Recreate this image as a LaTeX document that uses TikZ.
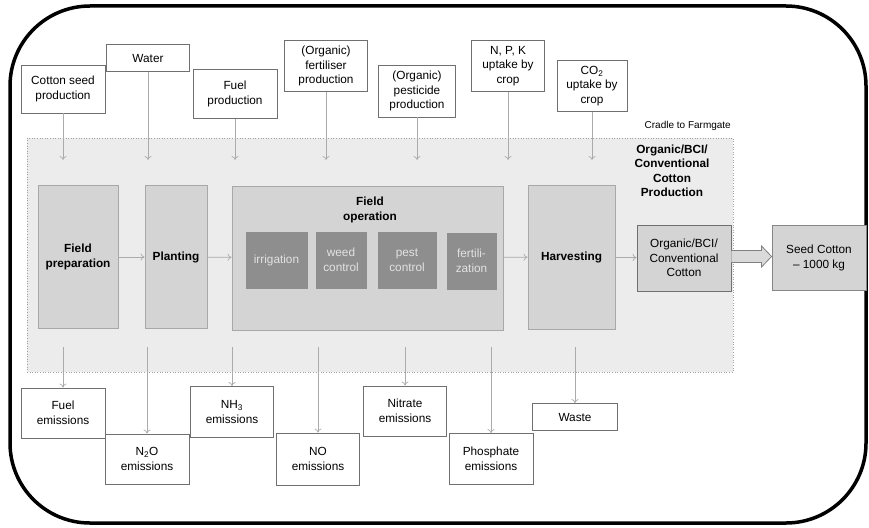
\documentclass[tikz,border=0pt]{standalone}
\usepackage{fontspec}
\setmainfont{Liberation Sans}
\usetikzlibrary{arrows.meta, positioning, calc}
\definecolor{zonefill}{HTML}{ECECEC}
\definecolor{zoneline}{HTML}{A0A0A0}
\definecolor{stagefill}{HTML}{D4D4D4}
\definecolor{stageline}{HTML}{A8A8A8}
\definecolor{taskfill}{HTML}{8E8E8E}
\definecolor{tasktext}{HTML}{E2E2E2}
\definecolor{flowgray}{HTML}{ABABAB}
\definecolor{boxline}{HTML}{707070}
\definecolor{blockfill}{HTML}{DADADA}

\begin{document}
\begin{tikzpicture}[x=1pt, y=-1pt,
    every node/.style={font=\fontsize{11.8}{14.5}\selectfont, align=center, inner sep=2pt},
    bold/.style={font=\fontsize{11.8}{14.5}\selectfont\bfseries},
    inbox/.style={draw=boxline, fill=white, line width=0.9pt},
    zone/.style={draw=zoneline, fill=zonefill, dotted, line width=0.6pt},
    stage/.style={draw=stageline, fill=stagefill, line width=0.9pt},
    task/.style={draw=taskfill, fill=taskfill, text=tasktext},
    flow/.style={draw=flowgray, line width=0.7pt, -{To[length=4pt, width=7pt]}},
  ]
  \useasboundingbox (0,0) rectangle (869,527);

  % outer frame
  \draw[line width=3.5pt, rounded corners=80pt] (10,6) rectangle (866,523);

  % cradle to farmgate zone
  \node[zone, minimum width=706, minimum height=234] (zone) at (380,255) {};
  \node[anchor=south east, font=\fontsize{10}{12}\selectfont] (cradle) at (733,133) {Cradle to Farmgate};
  \node[bold] (prodtitle) at (672,171) {Organic/BCI/\\Conventional\\Cotton\\Production};

  % inputs
  \node[inbox, minimum width=84, minimum height=48] (seed) at (63,89) {Cotton seed\\production};
  \node[inbox, minimum width=83, minimum height=27] (water) at (148,58) {Water};
  \node[inbox, minimum width=84, minimum height=49] (fuel) at (235,94) {Fuel\\production};
  \node[inbox, minimum width=83, minimum height=51] (fert) at (326,66) {(Organic)\\fertiliser\\production};
  \node[inbox, minimum width=77, minimum height=52] (pest) at (417,91) {(Organic)\\pesticide\\production};
  \node[inbox, minimum width=73, minimum height=51] (npk) at (508,66) {N, P, K\\uptake by\\crop};
  \node[inbox, minimum width=70, minimum height=51] (co2) at (592,86) {CO\textsubscript{2}\\uptake by\\crop};

  % stages
  \node[stage, bold, minimum width=80, minimum height=143] (prep) at (78,257) {Field\\preparation};
  \node[stage, bold, minimum width=62, minimum height=143] (plant) at (176,257) {Planting};
  \node[stage, minimum width=271, minimum height=144] (fop) at (367.5,258) {};
  \node[bold] (foptitle) at (370,210) {Field\\operation};
  \node[task, minimum width=61, minimum height=56] (irr) at (276.5,260) {irrigation};
  \node[task, minimum width=50, minimum height=56] (weed) at (341,260) {weed\\control};
  \node[task, minimum width=58, minimum height=56] (pestc) at (407,260) {pest\\control};
  \node[task, minimum width=49, minimum height=56] (fertz) at (471.5,261) {fertili-\\zation};
  \node[stage, bold, minimum width=87, minimum height=144] (harv) at (571.5,257) {Harvesting};
  \node[stage, draw=boxline, minimum width=94, minimum height=66] (org) at (684,258) {Organic/BCI/\\Conventional\\Cotton};
  \node[stage, draw=stageline!80!black, minimum width=94, minimum height=65] (seedc) at (819,258) {Seed Cotton\\-- 1000 kg};

  % outputs
  \node[inbox, minimum width=84, minimum height=50] (fuelem) at (63,413) {Fuel\\emissions};
  \node[inbox, minimum width=84, minimum height=50] (ntwo) at (147,459) {N\textsubscript{2}O\\emissions};
  \node[inbox, minimum width=83, minimum height=51] (nhthree) at (232,412) {NH\textsubscript{3}\\emissions};
  \node[inbox, minimum width=83, minimum height=52] (noem) at (318,459) {NO\\emissions};
  \node[inbox, minimum width=83, minimum height=50] (nitrate) at (405,411) {Nitrate\\emissions};
  \node[inbox, minimum width=84, minimum height=51] (phos) at (491,459) {Phosphate\\emissions};
  \node[inbox, minimum width=85, minimum height=27] (waste) at (575,417) {Waste};

  \coordinate (inrow) at (0,160);
  \coordinate (outrow) at (0,347);

  % flows in
  \foreach \n in {seed, water, fuel, fert, pest, npk, co2}
    \draw[flow] (\n) -- (\n |- inrow);

  % process chain
  \draw[flow] (prep) -- (plant);
  \draw[flow] (plant) -- (fop);
  \draw[flow] (fop) -- (harv);
  \draw[flow] (harv) -- (org);
  % block arrow to seed cotton
  \draw[draw=gray, fill=blockfill, line width=0.8pt]
    ($(org.east)+(0,-7.5)$) -- ($(seedc.west |- org.east)+(-10,-7.5)$)
    -- ($(seedc.west |- org.east)+(-10,-12)$) -- ($(seedc.west |- org.east)+(0,-1.5)$)
    -- ($(seedc.west |- org.east)+(-10,9)$) -- ($(seedc.west |- org.east)+(-10,4.5)$)
    -- ($(org.east)+(0,4.5)$);

  % flows out
  \foreach \n in {fuelem, ntwo, nhthree, noem, nitrate, phos, waste}
    \draw[flow] (\n |- outrow) -- (\n);
\end{tikzpicture}
\end{document}
